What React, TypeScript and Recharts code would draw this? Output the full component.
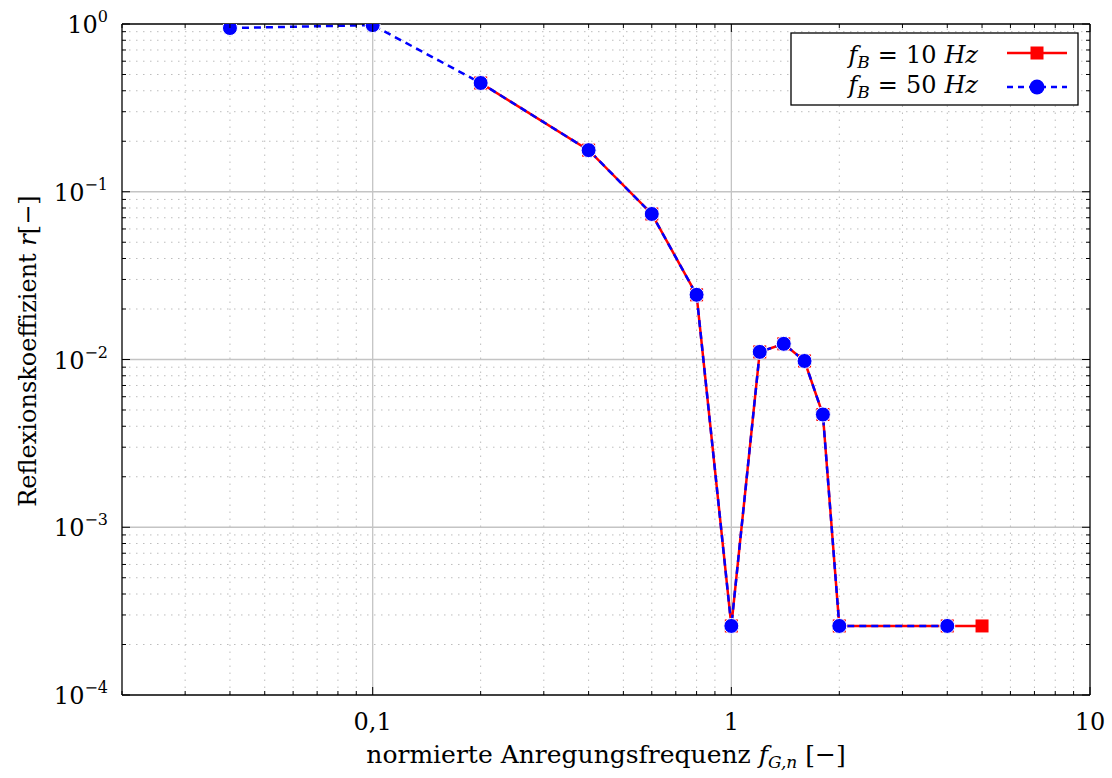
import { LineChart, Line, XAxis, YAxis, ReferenceLine } from "recharts";

// f_B = 50 Hz (blue)
const freq50 = [0.04, 0.1, 0.2, 0.4, 0.6, 0.8, 1, 1.2, 1.4, 1.6, 1.8, 2, 4];
const refl50 = [0.946, 0.985, 0.445, 0.177, 0.0737, 0.0243, 0.000258, 0.0111, 0.0124, 0.0098, 0.0047, 0.000258, 0.000258];

// f_B = 10 Hz (red)
const freq10 = [0.2, 0.4, 0.6, 0.8, 1, 1.2, 1.4, 1.6, 1.8, 2, 4, 5];
const refl10 = [0.445, 0.177, 0.0737, 0.0243, 0.000258, 0.0111, 0.0124, 0.0098, 0.0047, 0.000258, 0.000258, 0.000258];

const xMajor = [0.1, 1, 10];
const xMinor = [0.02, 0.03, 0.04, 0.05, 0.06, 0.07, 0.08, 0.09, 0.2, 0.3, 0.4, 0.5, 0.6, 0.7, 0.8, 0.9, 2, 3, 4, 5, 6, 7, 8, 9];
const xLabels: Record<string, string> = { "0.1": "0,1", "1": "1", "10": "10" };

const yMajor = [0.0001, 0.001, 0.01, 0.1, 1];
const yExponents = ["−4", "−3", "−2", "−1", "0"];
const yMinor = [2, 3, 4, 5, 6, 7, 8, 9].flatMap((m) => [m * 1e-4, m * 1e-3, m * 1e-2, m * 1e-1]);

const data50 = freq50.map((f, i) => ({ f, r: refl50[i] }));
const data10 = freq10.map((f, i) => ({ f, r: refl10[i] }));

const FONT = "'DejaVu Serif', 'Liberation Serif', serif";
const W = 1112;
const H = 778;
const margin = { top: 23, right: 21, bottom: 82, left: 121 };

const xTicks = [...xMinor, ...xMajor].sort((a, b) => a - b);
const yTicks = [...yMinor, ...yMajor].sort((a, b) => a - b);

const isMajor = (v: number) => Math.abs(Math.log10(v) - Math.round(Math.log10(v))) < 1e-6;

function XTickBottom({ x, y, payload }: any) {
  const major = isMajor(payload.value);
  return (
    <g>
      <line x1={x} x2={x} y1={y} y2={y - (major ? 8 : 4)} stroke="#000" strokeWidth={1} />
      {major && (
        <text x={x} y={y + 35} textAnchor="middle" fontFamily={FONT} fontSize={24} fill="#000">
          {xLabels[String(payload.value)]}
        </text>
      )}
    </g>
  );
}

function XTickTop({ x, y, payload }: any) {
  const major = isMajor(payload.value);
  return <line x1={x} x2={x} y1={y} y2={y + (major ? 8 : 4)} stroke="#000" strokeWidth={1} />;
}

function YTickLeft({ x, y, payload }: any) {
  const major = isMajor(payload.value);
  const idx = yMajor.findIndex((v) => Math.abs(v - payload.value) / v < 1e-6);
  return (
    <g>
      <line x1={x} x2={x + (major ? 8 : 4)} y1={y} y2={y} stroke="#000" strokeWidth={1} />
      {major && idx >= 0 && (
        <text x={x - 14} y={y + 9} textAnchor="end" fontFamily={FONT} fontSize={24} fill="#000">
          10
          <tspan dy={-11} fontSize={16}>
            {yExponents[idx]}
          </tspan>
        </text>
      )}
    </g>
  );
}

function YTickRight({ x, y, payload }: any) {
  const major = isMajor(payload.value);
  return <line x1={x} x2={x - (major ? 8 : 4)} y1={y} y2={y} stroke="#000" strokeWidth={1} />;
}

function SquareDot(props: any) {
  const { cx, cy, index } = props;
  if (cx == null || cy == null) return null;
  return <rect key={`sq-${index}`} x={cx - 6.5} y={cy - 6.5} width={13} height={13} fill="#ff0000" />;
}

function CircleDot(props: any) {
  const { cx, cy, index } = props;
  if (cx == null || cy == null) return null;
  return <circle key={`ci-${index}`} cx={cx} cy={cy} r={7.5} fill="#0000ff" stroke="#fff" strokeWidth={1} />;
}

function LegendLabel({ value }: { value: string }) {
  return (
    <>
      <tspan fontStyle="italic">f</tspan>
      <tspan fontStyle="italic" fontSize={17} dy={5}>
        B
      </tspan>
      <tspan dy={-5} dx={8}>=</tspan>
      <tspan dx={8}>{value}</tspan>
      <tspan fontStyle="italic" dx={8}>Hz</tspan>
    </>
  );
}

export default function App() {
  const axisLine = { stroke: "#000", strokeWidth: 1.3 };
  return (
    <div style={{ position: "absolute", left: 0, top: 0, width: W, height: H, background: "#fff" }}>
      <LineChart width={W} height={H} margin={margin}>
        {xMinor
          .filter((v) => v > 0.02)
          .map((v) => (
            <ReferenceLine key={`xm-${v}`} x={v} stroke="#bdbdbd" strokeWidth={1} strokeDasharray="1.5 5.5" />
          ))}
        {yMinor.map((v) => (
          <ReferenceLine key={`ym-${v}`} y={v} stroke="#bdbdbd" strokeWidth={1} strokeDasharray="1.5 5.5" />
        ))}
        {xMajor
          .filter((v) => v < 10)
          .map((v) => (
            <ReferenceLine key={`xM-${v}`} x={v} stroke="#c4c4c4" strokeWidth={1.3} />
          ))}
        {yMajor
          .filter((v) => v > 0.0001 && v < 1)
          .map((v) => (
            <ReferenceLine key={`yM-${v}`} y={v} stroke="#c4c4c4" strokeWidth={1.3} />
          ))}

        <XAxis
          type="number"
          dataKey="f"
          scale="log"
          domain={[0.02, 10]}
          allowDataOverflow
          ticks={xTicks}
          interval={0}
          tickLine={false}
          tickSize={0}
          tickMargin={0}
          height={1}
          axisLine={axisLine}
          tick={<XTickBottom />}
        />
        <XAxis
          xAxisId="top"
          orientation="top"
          type="number"
          dataKey="f"
          scale="log"
          domain={[0.02, 10]}
          allowDataOverflow
          ticks={xTicks}
          interval={0}
          tickLine={false}
          tickSize={0}
          tickMargin={0}
          height={1}
          axisLine={axisLine}
          tick={<XTickTop />}
        />
        <YAxis
          type="number"
          dataKey="r"
          scale="log"
          domain={[0.0001, 1]}
          allowDataOverflow
          ticks={yTicks}
          interval={0}
          tickLine={false}
          tickSize={0}
          tickMargin={0}
          width={1}
          axisLine={axisLine}
          tick={<YTickLeft />}
        />
        <YAxis
          yAxisId="right"
          orientation="right"
          type="number"
          dataKey="r"
          scale="log"
          domain={[0.0001, 1]}
          allowDataOverflow
          ticks={yTicks}
          interval={0}
          tickLine={false}
          tickSize={0}
          tickMargin={0}
          width={1}
          axisLine={axisLine}
          tick={<YTickRight />}
        />

        <Line
          data={data10}
          dataKey="r"
          name="f_B = 10 Hz"
          stroke="#ff0000"
          strokeWidth={2.5}
          dot={SquareDot}
          activeDot={false}
          isAnimationActive={false}
        />
        <Line
          data={data50}
          dataKey="r"
          name="f_B = 50 Hz"
          stroke="#0000ff"
          strokeWidth={2.5}
          strokeDasharray="7 5"
          dot={CircleDot}
          activeDot={false}
          isAnimationActive={false}
        />
      </LineChart>

      {/* axis titles and legend */}
      <svg width={W} height={H} style={{ position: "absolute", left: 0, top: 0, pointerEvents: "none" }}>
        <text x={606} y={763} textAnchor="middle" fontFamily={FONT} fontSize={25} fill="#000">
          normierte Anregungsfrequenz{" "}
          <tspan fontStyle="italic">f</tspan>
          <tspan fontStyle="italic" fontSize={17} dy={5}>
            G,n
          </tspan>
          <tspan dy={-5}> [−]</tspan>
        </text>
        <text
          transform="translate(36,351) rotate(-90)"
          textAnchor="middle"
          fontFamily={FONT}
          fontSize={24}
          fill="#000"
        >
          Reflexionskoeffizient <tspan fontStyle="italic">r</tspan>[−]
        </text>

        <rect x={791} y={33} width={287} height={72} fill="#fff" stroke="#000" strokeWidth={1.3} />
        <text x={978} y={63} textAnchor="end" fontFamily={FONT} fontSize={24} fill="#000">
          <LegendLabel value="10" />
        </text>
        <text x={978} y={93} textAnchor="end" fontFamily={FONT} fontSize={24} fill="#000">
          <LegendLabel value="50" />
        </text>
        <line x1={1007} x2={1067} y1={53} y2={53} stroke="#ff0000" strokeWidth={2.5} />
        <rect x={1030.5} y={46.5} width={13} height={13} fill="#ff0000" />
        <line x1={1007} x2={1067} y1={87} y2={87} stroke="#0000ff" strokeWidth={2.5} strokeDasharray="6 5" />
        <circle cx={1037} cy={87} r={7.5} fill="#0000ff" />
      </svg>
    </div>
  );
}
